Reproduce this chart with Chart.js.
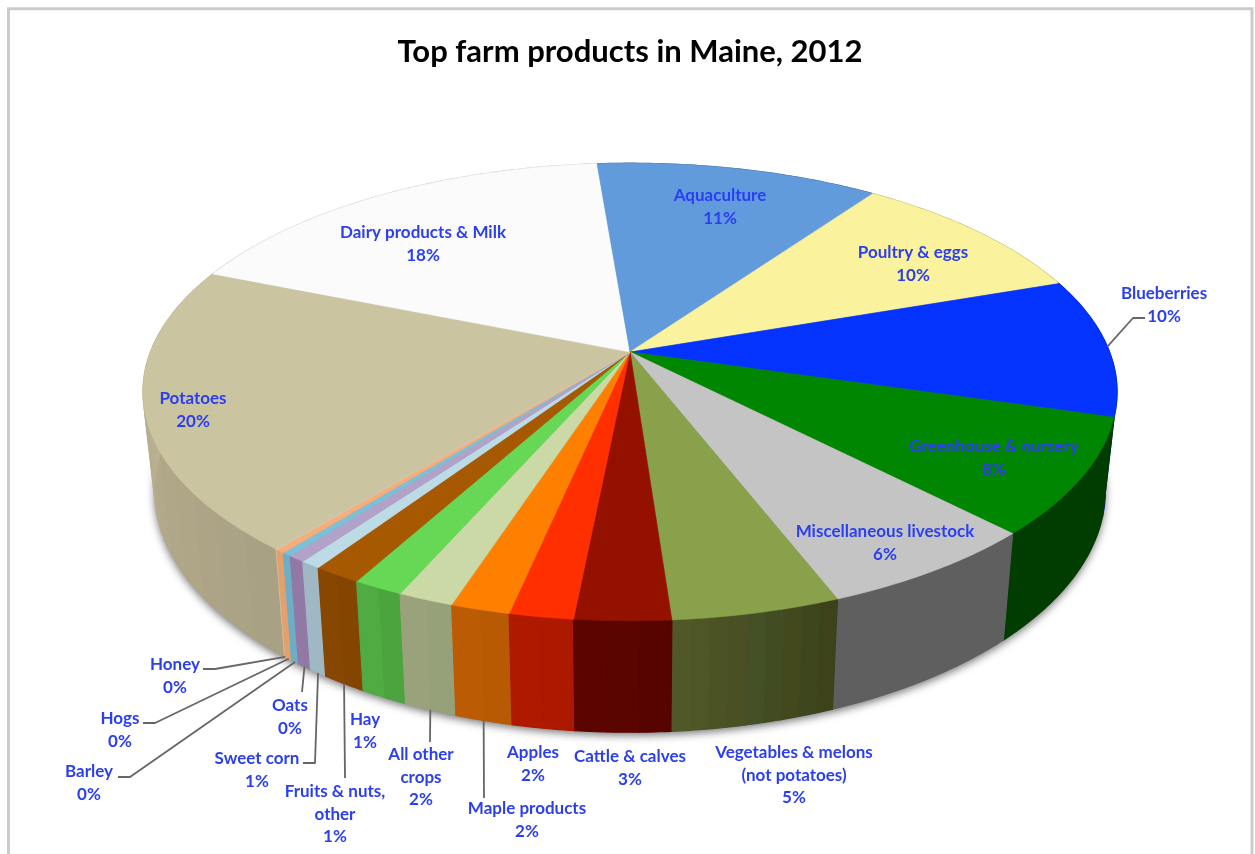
<!DOCTYPE html>
<html>
<head>
<meta charset="utf-8">
<title>Top farm products in Maine, 2012</title>
<style>html,body{margin:0;padding:0;background:#fff}canvas{display:block}</style>
<script src="https://cdn.jsdelivr.net/npm/chart.js@4/dist/chart.umd.min.js"></script>
</head>
<body>
<canvas id="pie" width="1255" height="854"></canvas>
<script>
// Clockwise from the Potatoes slice; "\n" marks a label line break.
const categories = [
  'Potatoes', 'Dairy products & Milk', 'Aquaculture', 'Poultry & eggs', 'Blueberries',
  'Greenhouse & nursery', 'Miscellaneous livestock', 'Vegetables & melons\n(not potatoes)',
  'Cattle & calves', 'Apples', 'Maple products', 'All other\ncrops', 'Hay',
  'Fruits & nuts,\nother', 'Sweet corn', 'Oats', 'Barley', 'Hogs', 'Honey'
];
const shares = [20.1, 17.6, 11.1, 9.9, 9.8, 8.2, 6.4, 4.75, 2.7, 1.8, 1.67, 1.58, 1.42, 1.36, 0.58, 0.49, 0.28, 0.25, 0.05];
const faceColors = [
  '#cbc4a1', '#fbfbfb', '#629bdc', '#faf29c', '#0433ff', '#008600', '#c4c4c4', '#88a14a',
  '#941100', '#ff2f00', '#ff7f00', '#cad9a5', '#66d856', '#a65900', '#bcdbe6', '#b3a2c7',
  '#7cc0d8', '#f9ab78', '#d8c8b0'
];
// Side-wall strip colours per slice, listed in clockwise order.
const wallShades = [
  ['#a9a184', '#aba386', '#ada487', '#afa688', '#b0a78a', '#b2a98b', '#b4aa8d', '#b6ac8e', '#b8ae90', '#bab092', '#bcb294', '#bdb395', '#beb496', '#bfb597'],
  ['#c0c0c0'], ['#3f6a99'], ['#a9a368'], ['#012399'], ['#013c00'], ['#5f5f5f'],
  ['#3d421b', '#3e461e', '#44481d', '#424c22', '#445026', '#4a5024', '#4b5224', '#4e5626', '#515827'],
  ['#570400', '#5a0500', '#5c0500'],
  ['#ad1800', '#ae1900'],
  ['#b85a04', '#bb5c05'],
  ['#96a17a', '#9aa27b'],
  ['#4ba43e', '#50ab42'],
  ['#844500', '#884700'],
  ['#9fb8c4'], ['#9279a5'], ['#6caec6'], ['#e4a06c'], ['#d0b898']
];

// Label centres (first line) per category, and callout lines that run from a pie rim.
const labelCentres = [
  [193, 399], [423, 233], [720, 196], [913, 253], [1164, 294], [994, 447], [885, 532], [794, 753],
  [630, 757], [533, 753], [527, 809], [421, 755], [365, 720], [335, 792], [257, 759], [290, 706],
  [89, 772], [120, 719], [175, 665]
];
const calloutRoutes = [
  { slice: 4, rim: 'top', route: [[1145, 318], [1133, 318]] },
  { slice: 10, rim: 'base', route: [[484, 798]] },
  { slice: 11, rim: 'base', route: [[430, 742]] },
  { slice: 13, rim: 'base', route: [[345, 778]] },
  { slice: 14, rim: 'base', route: [[303, 763], [315, 763]] },
  { slice: 15, rim: 'base', route: [[302, 692]] },
  { slice: 16, rim: 'base', route: [[118, 777], [130, 777]] },
  { slice: 17, rim: 'base', route: [[143, 723], [155, 723]] },
  { slice: 18, rim: 'base', route: [[203, 669], [215, 669]] }
];

// The flat pie from Chart.js is tipped back in perspective and given a thickness.
const view = { stretchX: 1.758, stretchY: 0.813, persp: 0.1747, baseX: 0.976, baseDrop: 96, baseY: 1.0577 };
const labelFont = 'bold 17px Lato, sans-serif';
const labelColor = '#2b3ff0';
const total = shares.reduce((a, b) => a + b, 0);

function project(arc, theta, radial, rim) {
  const u = Math.sin(theta) * radial, v = -Math.cos(theta) * radial;
  const w = 1 - view.persp * v, r = arc.outerRadius;
  if (rim === 'base') {
    return [arc.x + view.stretchX * view.baseX * r * u / w,
            arc.y + view.baseDrop + view.stretchY * view.baseY * r * v / w];
  }
  return [arc.x + view.stretchX * r * u / w, arc.y + view.stretchY * r * v / w];
}
const thetaOf = a => a + Math.PI / 2;

function rimPoints(arc, from, to, rim) {
  const n = Math.max(2, Math.ceil(Math.abs(to - from) / 0.01)), pts = [];
  for (let i = 0; i <= n; i++) pts.push(project(arc, from + (to - from) * i / n, 1, rim));
  return pts;
}
function tracePolygon(ctx, pts) {
  ctx.beginPath();
  pts.forEach((p, i) => i ? ctx.lineTo(p[0], p[1]) : ctx.moveTo(p[0], p[1]));
  ctx.closePath();
}

const tiltedPie = {
  id: 'tiltedPie',
  beforeDraw(chart) {
    const ctx = chart.ctx;
    ctx.save();
    ctx.fillStyle = '#ffffff';
    ctx.fillRect(0, 0, chart.width, chart.height);
    ctx.strokeStyle = '#cbcbcb';
    ctx.lineWidth = 3;
    ctx.beginPath();
    ctx.moveTo(8.5, 854); ctx.lineTo(8.5, 8.7); ctx.lineTo(1252, 8.7); ctx.lineTo(1252, 854);
    ctx.stroke();
    ctx.restore();
  },
  beforeDatasetsDraw(chart) {
    const ctx = chart.ctx, arcs = chart.getDatasetMeta(0).data;
    const first = arcs[0];
    ctx.save();

    // soft shadow below the base of the pie
    ctx.save();
    ctx.shadowColor = 'rgba(0,0,0,0.55)';
    ctx.shadowBlur = 8;
    ctx.shadowOffsetY = 3;
    ctx.fillStyle = '#888888';
    tracePolygon(ctx, rimPoints(first, 0, Math.PI * 2, 'base'));
    ctx.fill();
    ctx.restore();

    // side walls, furthest first
    const order = arcs.map((a, i) => i).sort((p, q) => {
      const mid = i => Math.abs(((thetaOf((arcs[i].startAngle + arcs[i].endAngle) / 2)) % (2 * Math.PI)) - Math.PI);
      return mid(q) - mid(p);
    });
    order.forEach(i => {
      const arc = arcs[i], shades = wallShades[i];
      const a0 = thetaOf(arc.startAngle), a1 = thetaOf(arc.endAngle);
      shades.forEach((shade, s) => {
        const from = a0 + (a1 - a0) * s / shades.length;
        const to = a0 + (a1 - a0) * (s + 1) / shades.length;
        const pts = rimPoints(arc, from, to, 'top').concat(rimPoints(arc, to, from, 'base'));
        tracePolygon(ctx, pts);
        ctx.fillStyle = shade;
        ctx.strokeStyle = shade;
        ctx.lineWidth = 1.2;
        ctx.fill();
        ctx.stroke();
      });
    });

    // top face
    arcs.forEach((arc, i) => {
      const pts = rimPoints(arc, thetaOf(arc.startAngle), thetaOf(arc.endAngle), 'top');
      pts.push([arc.x, arc.y]);
      tracePolygon(ctx, pts);
      ctx.fillStyle = faceColors[i];
      ctx.strokeStyle = faceColors[i];
      ctx.lineWidth = 0.6;
      ctx.fill();
      ctx.stroke();
    });
    ctx.restore();
    return false;
  },
  afterDraw(chart) {
    const ctx = chart.ctx, arcs = chart.getDatasetMeta(0).data;
    ctx.save();

    // callout lines
    ctx.strokeStyle = '#666666';
    ctx.lineWidth = 1.8;
    ctx.lineJoin = 'round';
    calloutRoutes.forEach(c => {
      const arc = arcs[c.slice];
      const end = project(arc, thetaOf((arc.startAngle + arc.endAngle) / 2), 1, c.rim);
      ctx.beginPath();
      c.route.forEach((p, i) => i ? ctx.lineTo(p[0], p[1]) : ctx.moveTo(p[0], p[1]));
      ctx.lineTo(end[0], end[1]);
      ctx.stroke();
    });

    // category names with rounded percentages
    ctx.font = labelFont;
    ctx.fillStyle = labelColor;
    ctx.textAlign = 'center';
    ctx.textBaseline = 'middle';
    categories.forEach((name, i) => {
      const lines = name.split('\n').concat(Math.round(shares[i] / total * 100) + '%');
      lines.forEach((line, n) => ctx.fillText(line, labelCentres[i][0], labelCentres[i][1] + n * 22.2));
    });
    ctx.restore();
  }
};

new Chart(document.getElementById('pie'), {
  type: 'pie',
  data: {
    labels: categories,
    datasets: [{ data: shares, backgroundColor: faceColors, borderWidth: 0 }]
  },
  options: {
    responsive: false,
    animation: false,
    rotation: 219.7,
    layout: { padding: { top: 33, bottom: 229.2, left: 5, right: 0 } },
    plugins: {
      legend: { display: false },
      tooltip: { enabled: false },
      title: {
        display: true,
        text: 'Top farm products in Maine, 2012',
        color: '#000000',
        font: { family: 'Lato, sans-serif', size: 31, weight: 'bold', lineHeight: 1.2 },
        padding: { top: 0, bottom: 9 }
      }
    }
  },
  plugins: [tiltedPie]
});
</script>
</body>
</html>
